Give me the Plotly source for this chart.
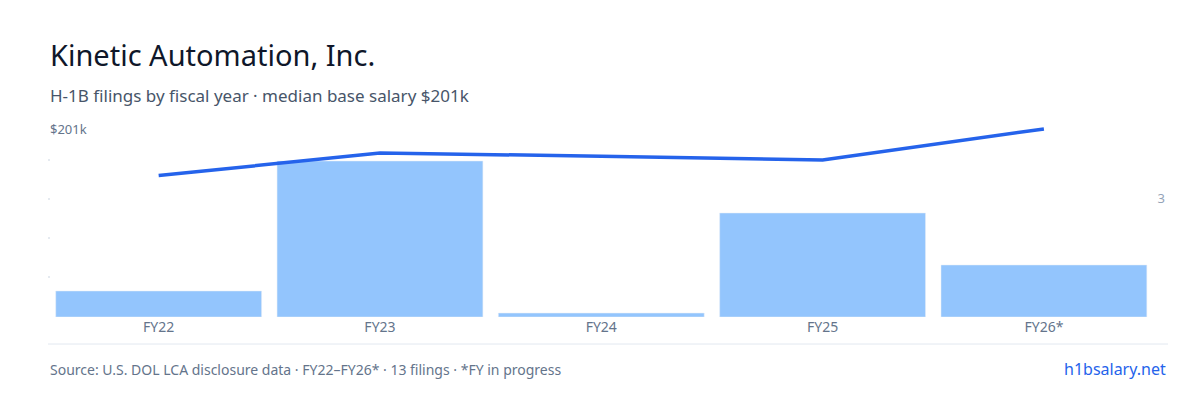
import plotly.graph_objects as go

years = ["FY22", "FY23", "FY24", "FY25", "FY26*"]
filings = [1, 6, 0.15, 4, 2]
salary_line = [4.0, 4.97, 4.83, 4.67, 6.0]

fig = go.Figure()
fig.add_bar(x=years, y=filings, marker_color="#93c5fd", yaxis="y", hoverinfo="skip")
fig.add_scatter(x=years, y=salary_line, mode="lines", line=dict(color="#2563eb", width=3.5), yaxis="y2")

f = "Noto Sans"
fig.update_layout(
    width=1200, height=400, paper_bgcolor="white", plot_bgcolor="white",
    margin=dict(l=40, r=40, t=113, b=91), showlegend=False, bargap=0.07,
    font=dict(family=f, color="#64748b"),
    xaxis=dict(showgrid=False, ticks="", tickfont=dict(size=14, color="#64748b"), showline=False),
    yaxis=dict(range=[0, 7.54], showgrid=False, showticklabels=False, zeroline=False,
               ticks="", tickvals=[]),
    yaxis2=dict(range=[-2.06, 6.34], overlaying="y", side="right", showgrid=False, zeroline=False,
                tickvals=[3, 6], tickfont=dict(size=13, color="#94a3b8"), ticklabelposition="inside"),
    annotations=[
        dict(text="Kinetic Automation, Inc.", x=40, y=47, xref="paper", yref="paper", showarrow=False),
    ],
)
anns = [
    dict(text="Kinetic Automation, Inc.", x=40, y=47, size=29, color="#0f172a", xa="left"),
    dict(text="H-1B filings by fiscal year · median base salary $201k", x=40, y=87, size=17, color="#475569", xa="left"),
    dict(text="$201k", x=40, y=121, size=13, color="#64748b", xa="left"),
    dict(text="Source: U.S. DOL LCA disclosure data · FY22–FY26* · 13 filings · *FY in progress", x=40, y=361, size=14, color="#64748b", xa="left"),
    dict(text="h1bsalary.net", x=1160, y=361, size=16, color="#2563eb", xa="right"),
]
fig.layout.annotations = []
for a in anns:
    fig.add_annotation(text=a["text"], x=a["x"] / 1200, y=1 - a["y"] / 400, xref="paper", yref="paper",
                       xanchor=a["xa"], yanchor="middle", showarrow=False,
                       font=dict(size=a["size"], color=a["color"], family=f))
# map paper coords relative to whole figure
for ann in fig.layout.annotations:
    px = ann.x * 1200; py = (1 - ann.y) * 400
    ann.x = (px - 40) / 1120
    ann.y = (309 - py) / 196
for yy in [152, 191, 230, 269]:
    fig.add_shape(type="line", xref="paper", yref="paper", x0=0, x1=2 / 1120,
                  y0=(309 - yy) / 196, y1=(309 - yy) / 196, line=dict(color="#cbd5e1", width=1))
fig.add_shape(type="line", xref="paper", yref="paper", x0=0, x1=1,
              y0=(309 - 336) / 196, y1=(309 - 336) / 196, line=dict(color="#e2e8f0", width=1))
fig.write_html("out.html")
